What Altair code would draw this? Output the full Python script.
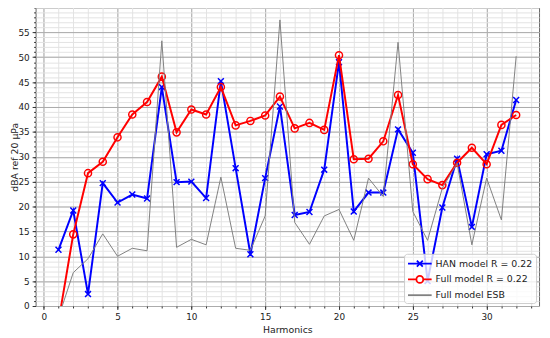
import altair as alt
import pandas as pd

harmonics = list(range(1, 33))
han = [11.3, 19.2, 2.4, 24.7, 20.8, 22.4, 21.6, 44.0, 24.9, 25.0, 21.7, 45.2, 27.7, 10.4, 25.7,
       40.1, 18.3, 18.9, 27.4, 49.0, 19.0, 22.8, 22.8, 35.5, 30.8, 5.0, 19.8, 29.6, 15.9, 30.5, 31.2, 41.4]
full = [-3.2, 14.4, 26.7, 29.0, 33.9, 38.5, 41.0, 46.1, 34.9, 39.5, 38.5, 44.0, 36.3, 37.2, 38.3,
        42.1, 35.7, 36.8, 35.4, 50.4, 29.5, 29.6, 33.1, 42.4, 28.5, 25.5, 24.3, 28.8, 31.8, 28.5, 36.4, 38.4]
esb = [-2.3, 6.7, 9.5, 14.5, 10.0, 11.6, 11.1, 53.3, 11.8, 13.4, 12.3, 25.9, 11.6, 11.2, 18.1,
       57.5, 16.8, 12.4, 18.1, 19.4, 13.2, 25.7, 22.0, 53.0, 19.0, 13.2, 23.7, 28.7, 12.3, 25.7, 17.3, 50.2]

series_names = ["HAN model R = 0.22", "Full model R = 0.22", "Full model ESB"]
series_colors = ["#0000ff", "#ff0000", "#808080"]
x_major = [0, 5, 10, 15, 20, 25, 30]
x_minor = list(range(0, 34))
y_major = [0, 5, 10, 15, 20, 25, 30, 35, 40, 45, 50, 55]
y_minor = list(range(0, 61))

rows = []
for name, vals in zip(series_names, [han, full, esb]):
    for h, v in zip(harmonics, vals):
        rows.append({"h": h, "value": v, "series": name})
df = pd.DataFrame(rows)

xscale = alt.Scale(domain=[-0.55, 33.55], nice=False, zero=False)
yscale = alt.Scale(domain=[0, 60], nice=False, zero=False)
cscale = alt.Scale(domain=series_names, range=series_colors)

legend_shapes = [
    "M-2,0L2,0M-0.5,-0.5L0.5,0.5M-0.5,0.5L0.5,-0.5",
    "M-2,0L-0.58,0A0.58,0.58 0 1,1 0.58,0A0.58,0.58 0 1,1 -0.58,0M0.58,0L2,0",
    "M-2,0L2,0",
]
sscale = alt.Scale(domain=series_names, range=legend_shapes)

base = alt.Chart(df)

minor_axes = base.mark_point(opacity=0).encode(
    x=alt.X("h:Q", scale=xscale, axis=alt.Axis(values=x_minor, labels=False, tickSize=2,
                                                  tickColor="#333", grid=True, gridColor="#e3e3e3",
                                                  gridWidth=1, domain=False, title=None, orient="bottom")),
    y=alt.Y("value:Q", scale=yscale, axis=alt.Axis(values=y_minor, labels=False, tickSize=2,
                                                      tickColor="#333", grid=True, gridColor="#e3e3e3",
                                                      gridWidth=1, domain=False, title=None, orient="left")),
)

major_axes = base.mark_point(opacity=0).encode(
    x=alt.X("h:Q", scale=xscale, axis=alt.Axis(values=x_major, tickSize=3.5, tickColor="#333",
                                                  grid=True, gridColor="#aaaaaa", gridWidth=1,
                                                  domain=False, title="Harmonics", orient="bottom",
                                                  labelPadding=3, titlePadding=3)),
    y=alt.Y("value:Q", scale=yscale, axis=alt.Axis(values=y_major, tickSize=3.5, tickColor="#333",
                                                      grid=True, gridColor="#aaaaaa", gridWidth=1,
                                                      domain=False, title="dBA ref 20 µPa", orient="left",
                                                      labelPadding=3, titleX=-21, titleY=151.5,
                                                      titleAngle=270, titleAlign="center",
                                                      titleBaseline="middle")),
)

def xy():
    return dict(
        x=alt.X("h:Q", scale=xscale, axis=None),
        y=alt.Y("value:Q", scale=yscale, axis=None),
    )

han_line = base.transform_filter(alt.datum.series == series_names[0]).mark_line(
    clip=True, strokeWidth=2, color=series_colors[0]).encode(**xy())
han_pts = base.transform_filter(alt.datum.series == series_names[0]).mark_point(
    clip=True, shape="M-1,-1L1,1M-1,1L1,-1", size=36, filled=False, strokeWidth=1.5,
    color=series_colors[0], opacity=1).encode(**xy())
full_line = base.transform_filter(alt.datum.series == series_names[1]).mark_line(
    clip=True, strokeWidth=2, color=series_colors[1]).encode(**xy())
full_pts = base.transform_filter(alt.datum.series == series_names[1]).mark_point(
    clip=True, shape="circle", size=52, filled=False, strokeWidth=1.5,
    color=series_colors[1], opacity=1).encode(**xy())
esb_line = base.transform_filter(alt.datum.series == series_names[2]).mark_line(
    clip=True, strokeWidth=1, color=series_colors[2]).encode(**xy())

legend_layer = base.mark_point(opacity=0, filled=False).encode(
    **xy(),
    color=alt.Color("series:N", scale=cscale, legend=alt.Legend(
        title=None, orient="bottom-right", offset=3, symbolOpacity=1, symbolSize=144,
        symbolStrokeWidth=1.8, symbolFillColor="transparent", symbolOffset=6,
        labelFontSize=9.5, labelFont="DejaVu Sans", labelColor="#222",
        fillColor="rgba(255,255,255,0.8)", strokeColor="#cccccc", cornerRadius=3,
        padding=3, rowPadding=1, labelOffset=9)),
    shape=alt.Shape("series:N", scale=sscale, legend=alt.Legend(
        title=None, orient="bottom-right")),
)

chart = alt.layer(
    minor_axes, major_axes, han_line, han_pts, full_line, full_pts, esb_line, legend_layer
).resolve_axis(x="independent", y="independent").properties(
    width=511, height=303,
    autosize=alt.AutoSizeParams(type="none"),
    padding={"left": 28, "top": -3, "right": 3, "bottom": 30},
).configure_view(stroke="#666666", strokeWidth=1).configure_axis(
    labelFont="DejaVu Sans", labelFontSize=9, labelColor="#222",
    titleFont="DejaVu Sans", titleFontSize=9.5, titleFontWeight="normal", titleColor="#222",
)

chart.save("out.html", embed_options={"renderer": "svg", "actions": False})
